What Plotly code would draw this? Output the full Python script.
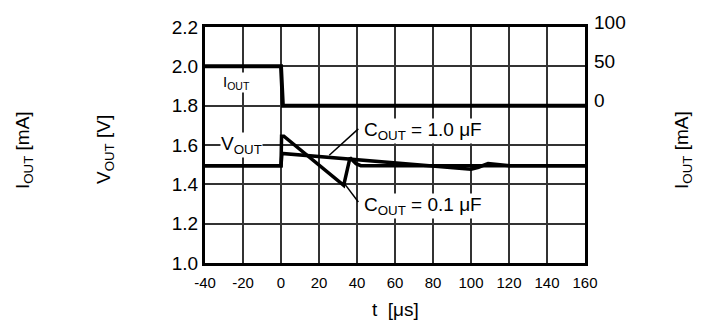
import plotly.graph_objects as go

# load transient response data
t_iout = [-40, 0, 1, 160]
i_out = [50, 50, 0, 0]

t_c01 = [-40, 0, 0.3, 1.5, 33, 36.3, 39.5, 42, 160]
v_c01 = [1.495, 1.495, 1.645, 1.645, 1.395, 1.535, 1.505, 1.495, 1.495]

t_c10 = [-40, 0, 0.5, 100, 104, 109, 120.5, 160]
v_c10 = [1.495, 1.495, 1.557, 1.477, 1.487, 1.506, 1.495, 1.495]

x_ticks = [-40, -20, 0, 20, 40, 60, 80, 100, 120, 140, 160]
x_labels = ["-40", "-20", "0", "20", "40", "60", "80", "100", "120", "140", "160"]
y_ticks = [1.0, 1.2, 1.4, 1.6, 1.8, 2.0, 2.2]
y2_ticks = [0, 50, 100]

FONT = "Liberation Sans, Arial, sans-serif"

fig = go.Figure()
fig.add_trace(go.Scatter(x=t_c01, y=v_c01, mode="lines",
                         line=dict(color="black", width=3.5)))
fig.add_trace(go.Scatter(x=t_c10, y=v_c10, mode="lines",
                         line=dict(color="black", width=3.5)))
fig.add_trace(go.Scatter(x=t_iout, y=i_out, mode="lines", yaxis="y2",
                         line=dict(color="black", width=4)))

# leader lines for the two capacitor labels
fig.add_shape(type="line", x0=25.4, y0=1.548, x1=40.7, y1=1.682,
              line=dict(color="black", width=1.5))
fig.add_shape(type="line", x0=33.7, y0=1.40, x1=40.7, y1=1.31,
              line=dict(color="black", width=1.5))

ann = dict(showarrow=False, font=dict(family=FONT, size=19, color="black"))
fig.add_annotation(x=43.2, y=1.673, xanchor="left", text="C<sub>OUT</sub> = 1.0 \u03bcF",
                   bgcolor="white", borderpad=0, **ann)
fig.add_annotation(x=43.2, y=1.288, xanchor="left", text="C<sub>OUT</sub> = 0.1 \u03bcF",
                   bgcolor="white", borderpad=0, **ann)
fig.add_annotation(x=-21, y=1.6, text="V<sub>OUT</sub>", bgcolor="white", borderpad=0, **ann)
fig.add_annotation(x=-23.2, y=1.917, text="I<sub>OUT</sub>", bgcolor="white", borderpad=0,
                   showarrow=False, font=dict(family=FONT, size=15, color="black"))

# axis titles as free text
title = dict(xref="paper", yref="paper", xanchor="center", yanchor="middle", **ann)
fig.add_annotation(x=-0.476, y=0.479, textangle=-90, text="I<sub>OUT</sub> [mA]", **title)
fig.add_annotation(x=-0.263, y=0.479, textangle=-90, text="V<sub>OUT</sub> [V]", **title)
fig.add_annotation(x=1.258, y=0.479, textangle=-90, text="I<sub>OUT</sub> [mA]", **title)
fig.add_annotation(x=0.5, y=-0.199, text="t  [\u03bcs]", **title)

# page body adds 8px, so margins are shifted by that much
fig.update_layout(
    width=705, height=329,
    margin=dict(l=197, r=128, t=19, b=74),
    paper_bgcolor="white", plot_bgcolor="white",
    showlegend=False,
    font=dict(family=FONT, color="black"),
    xaxis=dict(range=[-40, 160], tickvals=x_ticks, ticktext=x_labels, showgrid=True,
               gridcolor="#333", gridwidth=1.5, zeroline=False, automargin=False,
               showline=True, linecolor="black", linewidth=3, mirror=True,
               ticks="", tickfont=dict(size=15), ticklabelstandoff=4),
    yaxis=dict(range=[1.0, 2.2], tickvals=y_ticks, tickformat=".1f", automargin=False,
               showgrid=True, gridcolor="#333", gridwidth=1.5, zeroline=False,
               showline=True, linecolor="black", linewidth=3, mirror=True,
               ticks="", tickfont=dict(size=19)),
    yaxis2=dict(range=[-200, 100], tickvals=y2_ticks, overlaying="y", side="right",
                showgrid=False, zeroline=False, showline=False, ticks="", automargin=False,
                tickfont=dict(size=19), ticklabelshift=-5, ticklabelstandoff=8),
)

fig.write_html("out.html")
